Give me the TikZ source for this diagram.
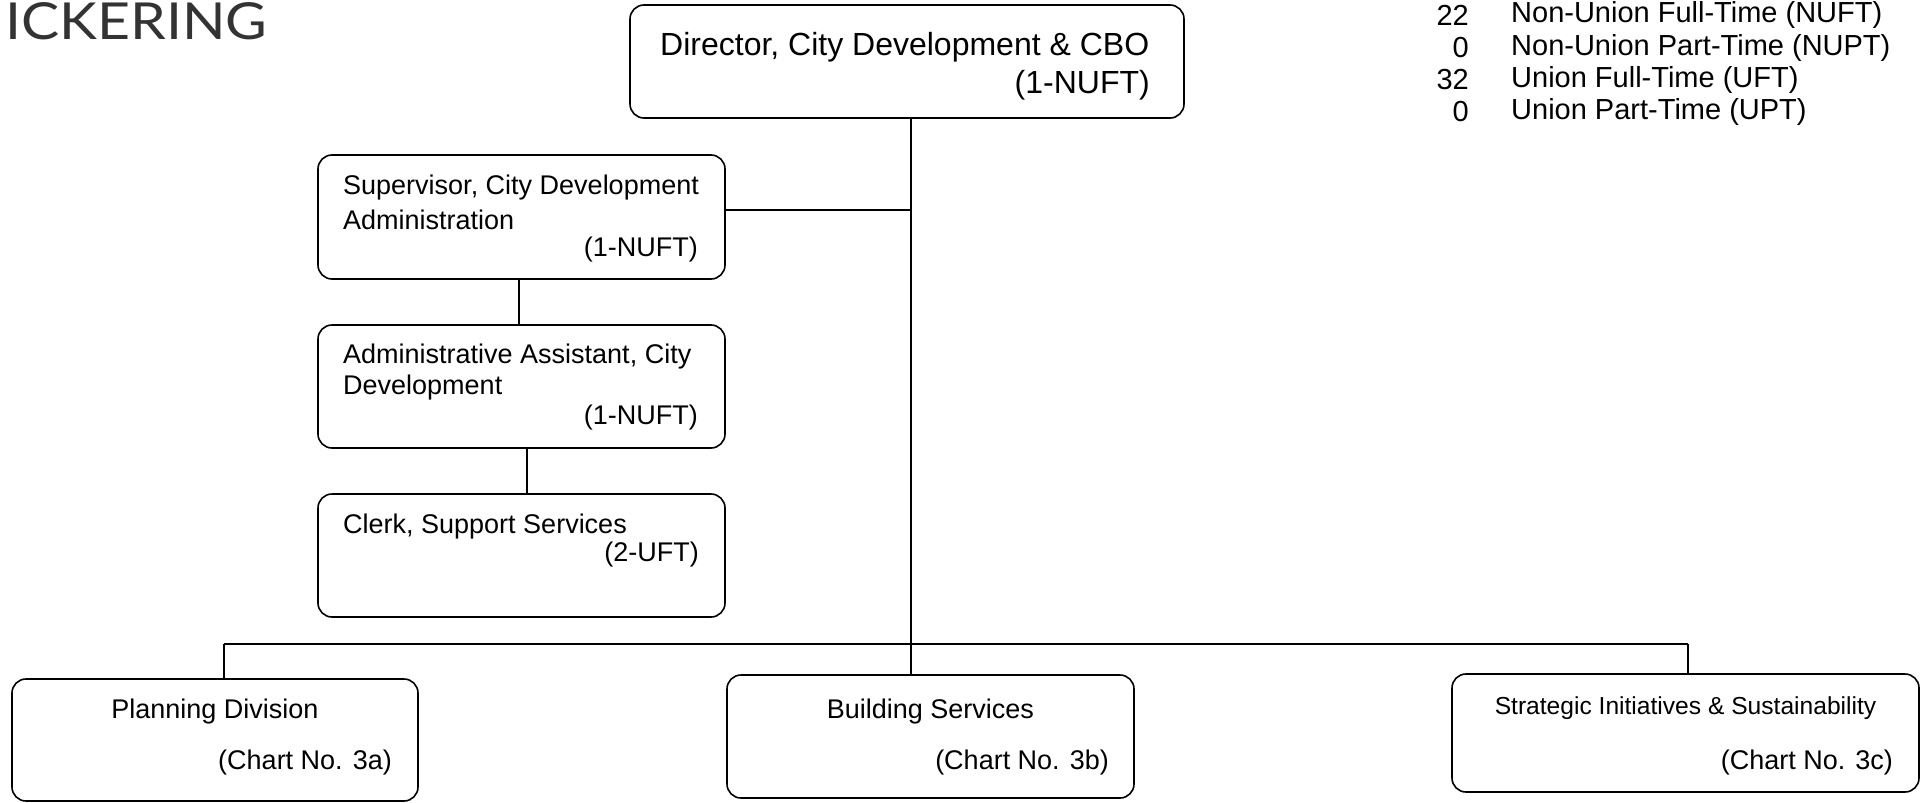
\documentclass[tikz,border=0pt]{standalone}
\usepackage{fontspec}
\setmainfont{Liberation Sans}
\newfontfamily\logofont{Lato}
\begin{document}
\begin{tikzpicture}[x=1pt,y=-1pt,
  box/.style={draw, rounded corners=14pt, line width=1.6pt, inner sep=0pt},
  conn/.style={line width=1.6pt},
  txt/.style={inner sep=0pt, font=\fontsize{27}{32}\selectfont},
  dtxt/.style={inner sep=0pt, font=\fontsize{32}{38}\selectfont},
  ltxt/.style={inner sep=0pt, font=\fontsize{29}{34}\selectfont},
  stxt/.style={inner sep=0pt, font=\fontsize{24.6}{30}\selectfont}]
\useasboundingbox (0,0) rectangle (1925,803);
% title
\node[inner sep=0pt, anchor=west, text=black!80, font=\logofont\fontsize{51}{60}\selectfont] (title) at (5,21) {\scalebox{1.12}[1]{ICKERING}};
% boxes
\node[box, minimum width=554pt, minimum height=113pt] (dir) at (907,61.5) {};
\node[box, minimum width=407pt, minimum height=124pt] (sup) at (521.5,217) {};
\node[box, minimum width=407pt, minimum height=123pt] (adm) at (521.5,386.5) {};
\node[box, minimum width=407pt, minimum height=123pt] (clk) at (521.5,555.5) {};
\node[box, minimum width=406pt, minimum height=122pt] (pln) at (215,740) {};
\node[box, minimum width=407pt, minimum height=123pt] (bld) at (930.5,736.5) {};
\node[box, minimum width=467pt, minimum height=118pt] (stg) at (1685.5,733) {};
% texts
\node[dtxt, anchor=west] (dir1) at (660,47) {Director, City Development \& CBO};
\node[dtxt, anchor=east] (dir2) at (1150,85) {(1-NUFT)};
\node[txt, anchor=west] (sup1) at (343,188) {Supervisor, City Development};
\node[txt, anchor=west] (sup2) at (343,220) {Administration};
\node[txt, anchor=east] (sup3) at (698,250) {(1-NUFT)};
\node[txt, anchor=west] (adm1) at (343,357) {Administrative Assistant, City};
\node[txt, anchor=west] (adm2) at (343,388) {Development};
\node[txt, anchor=east] (adm3) at (698,418) {(1-NUFT)};
\node[txt, anchor=west] (clk1) at (343,527) {Clerk, Support Services};
\node[txt, anchor=east] (clk2) at (699,555) {(2-UFT)};
\node[txt] (pln1) at (215,712) {Planning Division};
\node[txt, anchor=east] (pln2) at (392,763) {(Chart No. 3a)};
\node[txt] (bld1) at (930.5,712) {Building Services};
\node[txt, anchor=east] (bld2) at (1109,763) {(Chart No. 3b)};
\node[stxt] (stg1) at (1685.5,708) {Strategic Initiatives \& Sustainability};
\node[txt, anchor=east] (stg2) at (1893,763) {(Chart No. 3c)};
% legend
\node[ltxt, anchor=east] (n1) at (1469,15) {22};
\node[ltxt, anchor=east] (n2) at (1469,48) {0};
\node[ltxt, anchor=east] (n3) at (1469,80) {32};
\node[ltxt, anchor=east] (n4) at (1469,112) {0};
\node[ltxt, anchor=west] (l1) at (1511,15) {Non-Union Full-Time (NUFT)};
\node[ltxt, anchor=west] (l2) at (1511,48) {Non-Union Part-Time (NUPT)};
\node[ltxt, anchor=west] (l3) at (1511,80) {Union Full-Time (UFT)};
\node[ltxt, anchor=west] (l4) at (1511,112) {Union Part-Time (UPT)};
% connectors
\coordinate (bus) at (911,644);
\coordinate (busL) at (224,644);
\coordinate (busR) at (1688,644);
\draw[conn] (dir.south -| bus) -- (bus);
\draw[conn] ([yshift=7pt]sup.east) -- ([yshift=7pt]sup.east -| bus);
\draw[conn] ([xshift=-2.5pt]sup.south) -- ([xshift=-2.5pt]adm.north);
\draw[conn] ([xshift=5.5pt]adm.south) -- ([xshift=5.5pt]clk.north);
\draw[conn] (busL) -- (busR);
\draw[conn] (busL) -- (busL |- pln.north);
\draw[conn] (bus) -- (bus |- bld.north);
\draw[conn] (busR) -- (busR |- stg.north);
\end{tikzpicture}
\end{document}
